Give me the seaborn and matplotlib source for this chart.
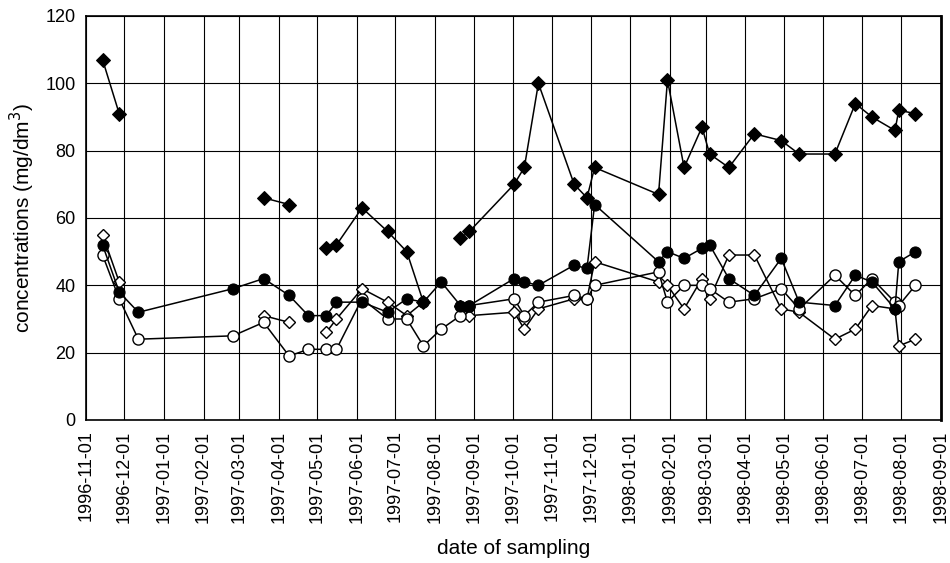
import numpy as np
import pandas as pd
import matplotlib

matplotlib.use('Agg')

import matplotlib.pyplot as plt
import matplotlib.dates as mdates
import seaborn as sns

#sampling dates
dates = ['1996-11-14', '1996-11-27', '1996-12-12', '1997-02-24', '1997-03-20', '1997-04-09',
         '1997-04-24', '1997-05-08', '1997-05-16', '1997-06-05', '1997-06-25', '1997-07-10',
         '1997-07-23', '1997-08-06', '1997-08-21', '1997-08-28', '1997-10-02', '1997-10-10',
         '1997-10-21', '1997-11-18', '1997-11-28', '1997-12-04', '1998-01-23', '1998-01-30',
         '1998-02-12', '1998-02-26', '1998-03-04', '1998-03-19', '1998-04-08', '1998-04-29',
         '1998-05-13', '1998-06-10', '1998-06-26', '1998-07-09', '1998-07-27', '1998-07-30',
         '1998-08-12']

nan = np.nan
#filled diamonds
s_fd = [107, 91, nan, nan, 66, 64, nan, 51, 52, 63, 56, 50, 35, nan, 54, 56, 70, 75, 100,
        70, 66, 75, 67, 101, 75, 87, 79, 75, 85, 83, 79, 79, 94, 90, 86, 92, 91]
#filled circles
s_fc = [52, 38, 32, 39, 42, 37, 31, 31, 35, 35, 32, 36, 35, 41, 34, 34, 42, 41, 40,
        46, 45, 64, 47, 50, 48, 51, 52, 42, 37, 48, 35, 34, 43, 41, 33, 47, 50]
#open circles
s_oc = [49, 36, 24, 25, 29, 19, 21, 21, 21, 36, 30, 30, 22, 27, 31, 34, 36, 31, 35,
        37, 36, 40, 44, 35, 40, 40, 39, 35, 36, 39, 33, 43, 37, 42, 35, 34, 40]
#open diamonds
s_od = [55, 41, nan, nan, 31, 29, nan, 26, 30, 39, 35, 31, 35, nan, 34, 31, 32, 27, 33,
        36, 36, 47, 41, 40, 33, 42, 36, 49, 49, 33, 32, 24, 27, 34, 33, 22, 24]

sns.set_style('white')
plt.rcParams['font.family'] = ['Liberation Sans', 'DejaVu Sans']
plt.rcParams['text.color'] = 'black'
plt.rcParams['axes.labelcolor'] = 'black'
plt.rcParams['xtick.color'] = 'black'
plt.rcParams['ytick.color'] = 'black'

def frame(vals):
    df = pd.DataFrame({'date': pd.to_datetime(dates), 'val': vals})
    #segment id so gaps stay open
    df['seg'] = df['val'].isna().cumsum()
    return df.dropna()

fig = plt.figure(figsize=(9.5, 5.63), dpi=100)
ax = fig.add_axes([0.0905, 0.254, 0.9, 0.7176])

series = [
    (s_od, dict(marker='D', markersize=6, markerfacecolor='white', markeredgecolor='black', markeredgewidth=1)),
    (s_oc, dict(marker='o', markersize=8, markerfacecolor='white', markeredgecolor='black', markeredgewidth=1)),
    (s_fc, dict(marker='o', markersize=8, markerfacecolor='black', markeredgecolor='black')),
    (s_fd, dict(marker='D', markersize=7.5, markerfacecolor='black', markeredgecolor='black')),
]
for vals, kw in series:
    df = frame(vals)
    sns.lineplot(data=df, x='date', y='val', units='seg', estimator=None, color='black',
                 linewidth=1.1, ax=ax, legend=False, **kw)

ax.set_xlim(pd.Timestamp('1996-11-01'), pd.Timestamp('1998-09-01'))
ax.set_ylim(0, 120)
ax.set_yticks(range(0, 121, 20))
ax.xaxis.set_major_locator(mdates.MonthLocator())
ax.xaxis.set_major_formatter(mdates.DateFormatter('%Y-%m-%d'))
plt.setp(ax.get_xticklabels(), rotation=90)
ax.tick_params(axis='both', labelsize=13, labelcolor='black', direction='out', length=4, width=1, color='black')
ax.grid(True, color='black', linewidth=0.8)
for s in ax.spines.values():
    s.set_color('black')
    s.set_linewidth(1.2)
ax.spines['right'].set_linewidth(2)

ax.set_xlabel('date of sampling', fontsize=15, labelpad=12, color='black')
ax.set_ylabel('concentrations (mg/dm$^3$)', fontsize=15, labelpad=6, color='black')

fig.savefig('out.png', dpi=100)
